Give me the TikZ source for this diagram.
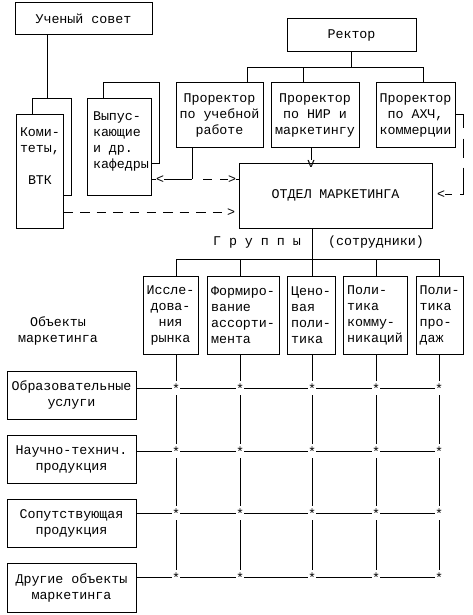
\documentclass[tikz,border=0pt]{standalone}
\usepackage{fontspec}
\newfontfamily\monof{Liberation Mono}
\begin{document}
\begin{tikzpicture}[x=1pt,y=-1pt,
  every node/.style={font=\monof\fontsize{13.33}{16}\selectfont},
  box/.style={draw, line width=1pt, fill=white, inner sep=0pt, align=center},
  txt/.style={inner sep=0pt, align=center},
  ln/.style={line width=1pt},
  glyph/.style={inner sep=0pt, text height=0pt, text depth=0pt, minimum width=8pt, minimum height=8pt},
  starnode/.style={inner sep=0pt, text height=0pt, text depth=0pt, minimum width=8pt, minimum height=14pt}]
\fill[white] (0,0) rectangle (472,615);
\useasboundingbox (0,0) rectangle (472,615);

% top boxes
\node[box, minimum width=137pt, minimum height=32pt] (sovet) at (83.5,19) {Ученый совет};
\node[box, minimum width=129pt, minimum height=33pt] (rektor) at (351.5,35.5) {Ректор};
\node[box, minimum width=39pt, minimum height=96pt] (komback) at (51.5,147) {};
\node[box, minimum width=47pt, minimum height=113pt] (kom) at (39.5,171.5) {};
\node[txt] (komt) at (40,156) {Коми-\\теты,\\\mbox{}\\ВТК};
\node[box, minimum width=56pt, minimum height=80pt] (kafback) at (131,123) {};
\node[box, minimum width=64pt, minimum height=96pt] (kaf) at (119,147) {};
\node[txt, align=left] (kaft) at (121,141) {Выпус-\\кающие\\и др.\\кафедры};
\node[box, minimum width=87pt, minimum height=64pt] (ucheb) at (219.5,115) {Проректор\\по учебной\\работе};
\node[box, minimum width=88pt, minimum height=64pt] (nir) at (315,115) {Проректор\\по НИР и\\маркетингу};
\node[box, minimum width=79pt, minimum height=64pt] (ahch) at (415.5,115) {Проректор\\по АХЧ,\\коммерции};
\node[box, minimum width=193pt, minimum height=65pt] (otdel) at (335.5,195.5) {ОТДЕЛ МАРКЕТИНГА};

% groups
\node[txt] (grt) at (257,242) {Г р у п п ы};
\node[txt] (sotr) at (376,242) {(сотрудники)};
\node[box, minimum width=55pt, minimum height=78pt] (g1) at (170.5,315) {Иссле-\\дова-\\ния\\рынка};
\node[box, align=left, minimum width=72pt, minimum height=78pt] (g2) at (243,315) {Формиро-\\вание\\ассорти-\\мента};
\node[box, align=left, minimum width=48pt, minimum height=78pt] (g3) at (311,315) {Цено-\\вая\\поли-\\тика};
\node[box, align=left, minimum width=64pt, minimum height=78pt] (g4) at (375,315) {Поли-\\тика\\комму-\\никаций};
\node[box, align=left, minimum width=47pt, minimum height=78pt] (g5) at (439.5,315) {Поли-\\тика\\про-\\даж};

% objects
\node[txt] (objl) at (58,331) {Объекты\\маркетинга};
\node[box, minimum width=129pt, minimum height=48pt] (o1) at (71.5,395) {Образовательные\\услуги};
\node[box, minimum width=129pt, minimum height=48pt] (o2) at (71.5,459) {Научно-технич.\\продукция};
\node[box, minimum width=129pt, minimum height=48pt] (o3) at (71.5,523) {Сопутствующая\\продукция};
\node[box, minimum width=129pt, minimum height=49pt] (o4) at (71.5,587.5) {Другие объекты\\маркетинга};

% arrow glyphs
\node[glyph] (la) at (160,179) {\raisebox{-4.5pt}[0pt][0pt]{<}};
\node[glyph] (ra) at (232,179) {\raisebox{-4.5pt}[0pt][0pt]{>}};
\node[glyph] (rb) at (231,212) {\raisebox{-4.5pt}[0pt][0pt]{>}};
\node[glyph] (lc) at (441,194) {\raisebox{-4.5pt}[0pt][0pt]{<}};
\node[glyph] (vv) at (311,164) {\raisebox{-3pt}[0pt][0pt]{v}};

% stars
\foreach \r/\y in {1/388,2/451,3/513,4/577}
  \foreach \c/\x in {1/176,2/240,3/312,4/376,5/439}
    \node[starnode] (s\r\c) at (\x,\y) {\raisebox{-5.5pt}[0pt][0pt]{*}};

% coordinates
\coordinate (sk) at (47,0);
\coordinate (b1) at (247,68);
\coordinate (b2) at (303,68);
\coordinate (b3) at (423,68);
\coordinate (j1) at (192,179);
\coordinate (c1) at (463,115);
\coordinate (gbus) at (312,259);

% connectors
\draw[ln] (sovet.south -| sk) -- (komback.north -| sk);
\draw[ln] (rektor.south) -- (rektor.south |- b1);
\draw[ln] (ucheb.north -| b1) -- (b1) -- (b3) -- (ahch.north -| b3);
\draw[ln] (b2) -- (nir.north -| b2);
\draw[ln] (nir.south -| vv) -- (vv.north);
\draw[ln] (kaf.east |- la) -- (la.west);
\draw[ln] (la.east) -- (j1);
\draw[ln] (ucheb.south -| j1) -- (j1);
\draw[ln, dash pattern=on 0pt off 11pt on 9pt off 8pt on 20pt] (j1) -- (ra.west);
\draw[ln] (ra.east) -- (otdel.west |- ra);
\draw[ln, dash pattern=on 9.5pt off 7.1pt] (kom.east |- rb) -- (rb.west);
\draw[ln, dash pattern=on 20pt off 11pt on 19pt off 10pt on 30pt off 8pt on 20pt] (ahch.east) -- (c1) |- (lc.east);

\draw[ln] (gbus |- otdel.south) -- (gbus);
\draw[ln] (s11 |- gbus) -- (s15 |- gbus);
\foreach \c in {1,...,5} {
  \draw[ln] (s1\c |- gbus) -- (s1\c |- g\c.north);
  \draw[ln] (s1\c |- g\c.south) -- (s1\c);
  \draw[ln] (s1\c) -- (s2\c);
  \draw[ln] (s2\c) -- (s3\c);
  \draw[ln] (s3\c) -- (s4\c);
}
\foreach \r in {1,...,4} {
  \draw[ln] (o\r.east |- s\r1) -- (s\r1);
  \draw[ln] (s\r1) -- (s\r2);
  \draw[ln] (s\r2) -- (s\r3);
  \draw[ln] (s\r3) -- (s\r4);
  \draw[ln] (s\r4) -- (s\r5);
}
\end{tikzpicture}
\end{document}
